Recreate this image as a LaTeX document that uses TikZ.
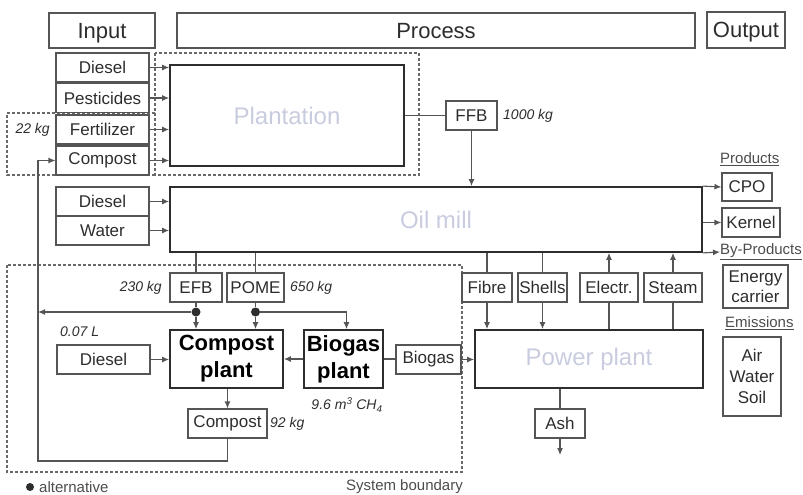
\documentclass[tikz,border=0pt]{standalone}
\usepackage{fontspec}
\setmainfont{Liberation Sans}
\usetikzlibrary{arrows.meta,positioning,calc}
\definecolor{edge}{RGB}{85,85,85}
\definecolor{ink}{RGB}{45,45,45}
\definecolor{ghost}{RGB}{200,204,222}
\definecolor{bndry}{RGB}{105,105,105}

\begin{document}
\begin{tikzpicture}[
  x=1pt, y=-1pt,
  >={Latex[length=7pt,width=6pt]},
  box/.style={draw=edge, line width=1.1pt, inner sep=0pt, text=ink, align=center, font=\fontsize{17}{19}\selectfont},
  head/.style={box, text depth=0pt, font=\fontsize{22}{24}\selectfont},
  unit/.style={box, draw=ink, line width=1.8pt, text=ghost, font=\fontsize{24}{26}\selectfont},
  subunit/.style={box, draw=ink, line width=1.8pt, text=black, font=\bfseries\fontsize{22}{27}\selectfont},
  sz/.style 2 args={minimum width=#1, minimum height=#2},
  flow/.style={draw=edge, line width=1.1pt},
  qty/.style={font=\itshape\fontsize{14}{16}\selectfont, text=ink, inner sep=0pt},
  cat/.style={font=\fontsize{15}{17}\selectfont, text=ink!85, inner sep=0pt},
  bound/.style={draw=bndry, line width=1.1pt, dash pattern=on 3pt off 2pt},
  alt/.style={circle, fill=ink, inner sep=0pt, minimum size=9pt}
]
  \useasboundingbox (0,0) rectangle (803,495);

  % header row
  \node[head, sz={106pt}{35pt}] (input) at (102,30.5) {Input};
  \node[head, sz={518pt}{35pt}] (process) at (436,30.5) {Process};
  \node[head, sz={78pt}{36pt}] (output) at (746,30) {Output};

  % system boundaries
  \draw[bound] (155,53) rectangle (419,175);
  \draw[bound] (155,113) -- (7,113) -- (7,175) -- (155,175);
  \draw[bound] (7,265) rectangle (462,472);

  % plantation
  \node[box, sz={93pt}{29pt}] (pdiesel) at (102.5,67.5) {Diesel};
  \node[box, sz={93pt}{29pt}] (pest) at (102.5,98) {Pesticides};
  \node[box, sz={93pt}{29pt}] (fert) at (102.5,129.5) {Fertilizer};
  \node[box, sz={93pt}{29pt}] (pcomp) at (102.5,160.5) {Compost};
  \node[unit, sz={234pt}{101pt}] (plant) at (287,115.5) {Plantation};
  \node[qty, anchor=east] (fertkg) at (50,129.5) {22 kg};
  \foreach \n in {pdiesel,pest,fert,pcomp}
    \draw[flow,->] (\n.east) -- (\n.east -| plant.west);

  \node[box, sz={51pt}{29pt}] (ffb) at (471.5,115.5) {FFB};
  \node[qty, anchor=west] (ffbkg) at (503,115.5) {1000 kg};
  \draw[flow] (plant.east) -- (ffb.west);

  % oil mill
  \node[unit, sz={532pt}{65pt}] (mill) at (436,219.5) {Oil mill};
  \node[box, sz={93pt}{29pt}] (mdiesel) at (102.5,201.5) {Diesel};
  \node[box, sz={93pt}{29pt}] (water) at (102.5,230.5) {Water};
  \foreach \n in {mdiesel,water}
    \draw[flow,->] (\n.east) -- (\n.east -| mill.west);
  \draw[flow,->] (ffb.south) -- (ffb.south |- mill.north);

  % outputs
  \node[cat, anchor=west] (prod) at (720,159) {\underline{Products}};
  \node[box, sz={50pt}{28pt}] (cpo) at (747,187) {CPO};
  \node[box, sz={58pt}{29pt}] (kernel) at (751,222.5) {Kernel};
  \node[cat, anchor=west] (byprod) at (720,252) {\underline{By-Products}};
  \node[box, sz={65pt}{43pt}, font=\fontsize{17}{20}\selectfont] (energy) at (755.5,286.5) {Energy\\carrier};
  \node[cat, anchor=west] (emis) at (725,323) {\underline{Emissions}};
  \node[box, sz={58pt}{79pt}, font=\fontsize{17}{21}\selectfont] (emit) at (752,376.5) {Air\\Water\\Soil};
  \draw[flow,->] (mill.north east) -- (cpo.west);
  \draw[flow,->] (mill.east |- kernel.west) -- (kernel.west);
  \draw[flow,->] (mill.south east) -- (byprod.west);

  % residues
  \node[box, sz={52pt}{29pt}] (efb) at (196,287.5) {EFB};
  \node[box, sz={57pt}{29pt}] (pome) at (255.5,287.5) {POME};
  \node[qty, anchor=east] (efbkg) at (162,288) {230 kg};
  \node[qty, anchor=west] (pomekg) at (290,288) {650 kg};
  \draw[flow] (mill.south -| efb) -- (efb.north);
  \draw[flow] (mill.south -| pome) -- (pome.north);

  % composting and biogas
  \node[subunit, sz={113pt}{58pt}] (cplant) at (226.5,359) {Compost\\plant};
  \node[subunit, sz={79pt}{58pt}] (bgplant) at (343.5,359) {Biogas\\plant};
  \node[box, sz={93pt}{29pt}] (cdiesel) at (103.5,359.5) {Diesel};
  \node[qty, anchor=west] (cdieselq) at (60,332) {0.07 L};
  \node[box, sz={79pt}{29pt}] (cout) at (227.5,423.5) {Compost};
  \node[qty, anchor=west] (coutkg) at (270,424) {92 kg};
  \node[qty] (ch4) at (347,405) {9.6 m\textsuperscript{3} CH\textsubscript{4}};
  \node[box, sz={65pt}{29pt}] (biogas) at (428.5,359.5) {Biogas};

  \node[alt] (efbdot) at (efb.south |- 0,312) {};
  \node[alt] (pomedot) at (pome.south |- 0,312) {};
  \coordinate (loopbot) at (38,461);
  \draw[flow] (efb.south) -- (efbdot);
  \draw[flow] (pome.south) -- (pomedot);
  \draw[flow,->] (efbdot) -- (efbdot |- cplant.north);
  \draw[flow,->] (pomedot) -- (pomedot |- cplant.north);
  \draw[flow,->] (efbdot) -- (efbdot -| loopbot);
  \draw[flow,->] (pomedot) -| ([xshift=3pt]bgplant.north);
  \draw[flow,->] (cdiesel.east) -- (cdiesel.east -| cplant.west);
  \draw[flow,->] (bgplant.west) -- (cplant.east);
  \draw[flow,->] (cplant.south -| cout) -- (cout.north);
  \draw[flow,->] (cout.south) |- (loopbot) |- (pcomp.west);
  \draw[flow] (bgplant.east) -- (bgplant.east -| biogas.west);

  % power plant
  \node[unit, sz={228pt}{58pt}] (power) at (589,359) {Power plant};
  \node[box, sz={50pt}{29pt}] (fibre) at (487,287.5) {Fibre};
  \node[box, sz={49pt}{29pt}] (shells) at (542.5,287.5) {Shells};
  \node[box, sz={58pt}{29pt}] (electr) at (609,287.5) {Electr.};
  \node[box, sz={58pt}{29pt}] (steam) at (673,287.5) {Steam};
  \node[box, sz={50pt}{29pt}] (ash) at (560,423.5) {Ash};
  \coordinate (ashout) at (560,455);
  \foreach \n in {fibre,shells} {
    \draw[flow] (mill.south -| \n) -- (\n.north);
    \draw[flow,->] (\n.south) -- (\n.south |- power.north);
  }
  \foreach \n in {electr,steam} {
    \draw[flow] (power.north -| \n) -- (\n.south);
    \draw[flow,->] (\n.north) -- (\n.north |- mill.south);
  }
  \draw[flow,->] (biogas.east) -- (biogas.east -| power.west);
  \draw[flow] (power.south -| ash) -- (ash.north);
  \draw[flow,->] (ash.south) -- (ashout);

  % legend
  \node[alt, minimum size=8pt] (altdot) at (30,487) {};
  \node[cat, anchor=west] (altlab) at (39,487) {alternative};
  \node[cat, anchor=east] (sysb) at (463,487) {System boundary};
\end{tikzpicture}
\end{document}
